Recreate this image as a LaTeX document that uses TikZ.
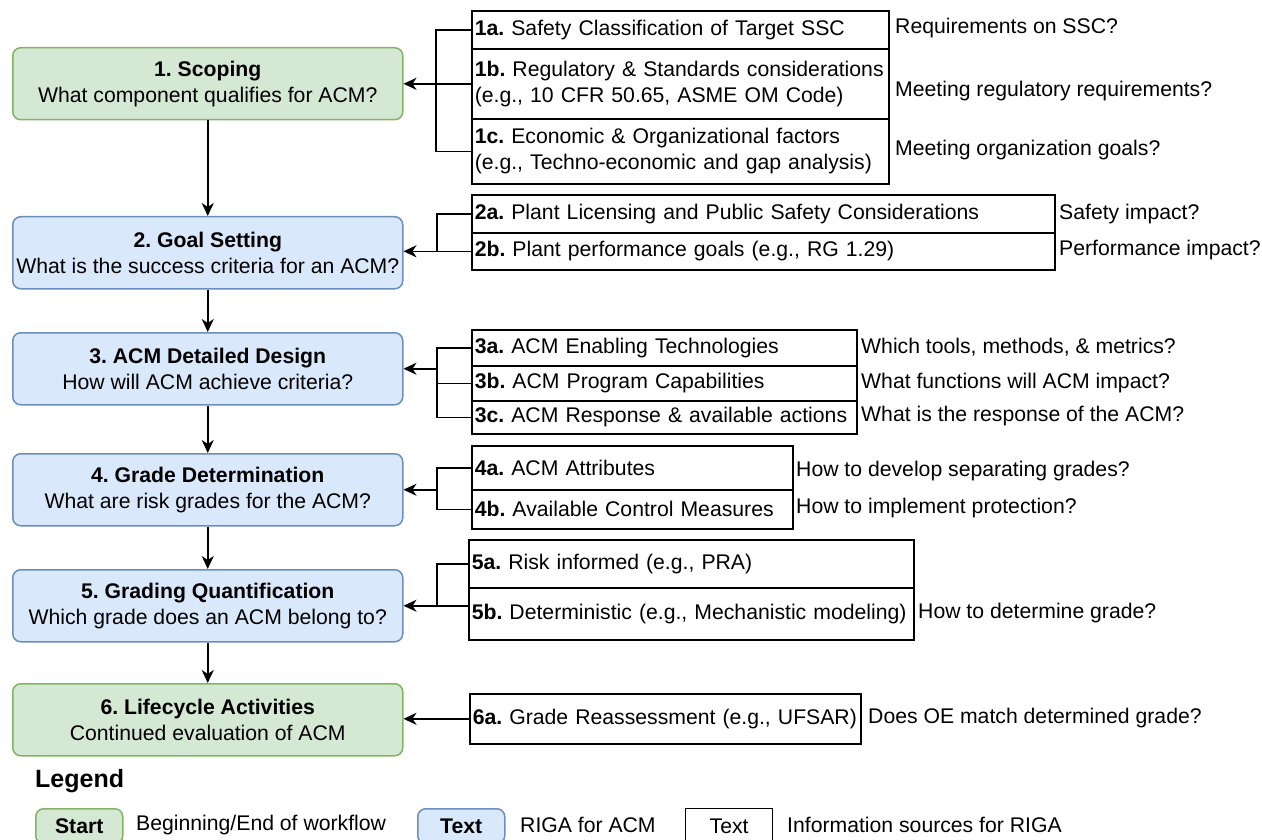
\documentclass[tikz,border=0pt]{standalone}
\usepackage{fontspec}
\setmainfont{Liberation Sans}
\usetikzlibrary{arrows.meta}
\frenchspacing
\definecolor{gfill}{HTML}{D5E8D4}
\definecolor{gline}{HTML}{82B366}
\definecolor{bfill}{HTML}{DAE8FC}
\definecolor{bline}{HTML}{6C8EBF}
\tikzset{
  base/.style={font=\fontsize{21.2}{26}\selectfont},
  stepgreen/.style={base, draw=gline, fill=gfill, line width=1.5pt, rounded corners=8pt,
     minimum width=390pt, minimum height=72pt, align=center, inner sep=0pt, anchor=north west},
  stepblue/.style={stepgreen, draw=bline, fill=bfill},
  info/.style={base, draw=black, line width=1.6pt, align=left, inner xsep=3pt, inner ysep=0pt,
     anchor=north west},
  ques/.style={base, anchor=west, inner sep=0pt},
  conn/.style={line width=1.5pt, black},
  arr/.style={conn, -{Stealth[length=13pt,width=12pt,inset=4pt]}},
}
\newcommand{\ibox}[6]{% name, x, y, width, height, text
  \node[info, text width=#4pt-6pt, minimum height=#5pt] (#1) at (#2,#3) {#6};}
\begin{document}
\begin{tikzpicture}[x=1pt,y=-1pt]
\useasboundingbox (0,0) rectangle (1262,840);

% left workflow boxes
\node[stepgreen] (b1) at (12,47)  {\textbf{1. Scoping}\\What component qualifies for ACM?};
\node[stepblue]  (b2) at (12,216) {\textbf{2. Goal Setting}\\What is the success criteria for an ACM?};
\node[stepblue]  (b3) at (12,332) {\textbf{3. ACM Detailed Design}\\How will ACM achieve criteria?};
\node[stepblue]  (b4) at (12,453) {\textbf{4. Grade Determination}\\What are risk grades for the ACM?};
\node[stepblue]  (b5) at (12,569) {\textbf{5. Grading Quantification}\\Which grade does an ACM belong to?};
\node[stepgreen] (b6) at (12,683) {\textbf{6. Lifecycle Activities}\\Continued evaluation of ACM};

\draw[arr] (b1) -- (b2);
\draw[arr] (b2) -- (b3);
\draw[arr] (b3) -- (b4);
\draw[arr] (b4) -- (b5);
\draw[arr] (b5) -- (b6);

% information boxes
\ibox{g1a}{471}{10}{417}{38}{\textbf{1a.} Safety Classification of Target SSC}
\ibox{g1b}{471}{48}{417}{70}{\textbf{1b.} Regulatory \& Standards considerations\\(e.g., 10 CFR 50.65, ASME OM Code)}
\ibox{g1c}{471}{118}{417}{65}{\textbf{1c.} Economic \& Organizational factors\\(e.g., Techno-economic and gap analysis)}

\ibox{g2a}{471}{194}{583}{38}{\textbf{2a.} Plant Licensing and Public Safety Considerations}
\ibox{g2b}{471}{232}{583}{37}{\textbf{2b.} Plant performance goals (e.g., RG 1.29)}

\ibox{g3a}{471}{329}{385}{36}{\textbf{3a.} ACM Enabling Technologies}
\ibox{g3b}{471}{365}{385}{35}{\textbf{3b.} ACM Program Capabilities}
\ibox{g3c}{471}{400}{385}{33}{\textbf{3c.} ACM Response \& available actions}

\ibox{g4a}{471}{445}{321}{44}{\textbf{4a.} ACM Attributes}
\ibox{g4b}{471}{489}{321}{39}{\textbf{4b.} Available Control Measures}

\ibox{g5a}{468}{539}{445}{48}{\textbf{5a.} Risk informed (e.g., PRA)}
\ibox{g5b}{468}{587}{445}{52}{\textbf{5b.} Deterministic (e.g., Mechanistic modeling)}

\ibox{g6a}{469}{693}{391}{50}{\textbf{6a.} Grade Reassessment (e.g., UFSAR)}

% questions
\node[ques] (q1a) at (895,28)  {Requirements on SSC?};
\node[ques] (q1b) at (895,91)  {Meeting regulatory requirements?};
\node[ques] (q1c) at (895,150) {Meeting organization goals?};
\node[ques] (q2a) at (1059,214) {Safety impact?};
\node[ques] (q2b) at (1059,250) {Performance impact?};
\node[ques] (q3a) at (861,347) {Which tools, methods, \& metrics?};
\node[ques] (q3b) at (861,383) {What functions will ACM impact?};
\node[ques] (q3c) at (861,416) {What is the response of the ACM?};
\node[ques] (q4a) at (796,471) {How to develop separating grades?};
\node[ques] (q4b) at (796,508) {How to implement protection?};
\node[ques] (q5b) at (918,613) {How to determine grade?};
\node[ques] (q6a) at (868,718) {Does OE match determined grade?};

% connectors: group 1
\draw[conn] (g1a.west) -- ++(-35,0) coordinate (t1) -- (t1 |- g1c.west) -- (g1c.west);
\draw[arr] (g1b.west) -- (g1b.west -| b1.east);
% group 2
\draw[conn] (g2a.west) -- ++(-34,0) coordinate (t2) -- (t2 |- g2b.west);
\draw[arr] (g2b.west) -- (g2b.west -| b2.east);
% group 3
\draw[conn] (g3a.west) -- ++(-34,0) coordinate (t3) -- (t3 |- g3c.west) -- (g3c.west);
\draw[conn] (g3b.west) -- (t3 |- g3b.west);
\draw[arr] (t3 |- b3.east) -- (b3.east);
% group 4
\draw[conn] (g4a.west) -- ++(-34,0) coordinate (t4) -- (t4 |- g4b.west) -- (g4b.west);
\draw[arr] (t4 |- b4.east) -- (b4.east);
% group 5
\draw[conn] (g5a.west) -- ++(-31,0) coordinate (t5) -- (t5 |- b5.east);
\draw[arr] (g5b.west |- b5.east) -- (b5.east);
% group 6
\draw[arr] (g6a.west) -- (g6a.west -| b6.east);

% legend
\node[anchor=west, inner sep=0pt, font=\fontsize{25}{30}\selectfont\bfseries] (leg) at (35,781) {Legend};
\node[stepgreen, minimum width=87pt, minimum height=35pt] (ls) at (35,808) {\textbf{Start}};
\node[ques] (lst) at (136,825) {Beginning/End of workflow};
\node[stepblue, minimum width=87pt, minimum height=35pt] (lb) at (417,808) {\textbf{Text}};
\node[ques] (lbt) at (520,825) {RIGA for ACM};
\node[info, minimum width=87pt, minimum height=35pt, line width=1.3pt, align=center] (lw) at (685,808) {Text};
\node[ques] (lwt) at (787,825) {Information sources for RIGA};
\end{tikzpicture}
\end{document}
